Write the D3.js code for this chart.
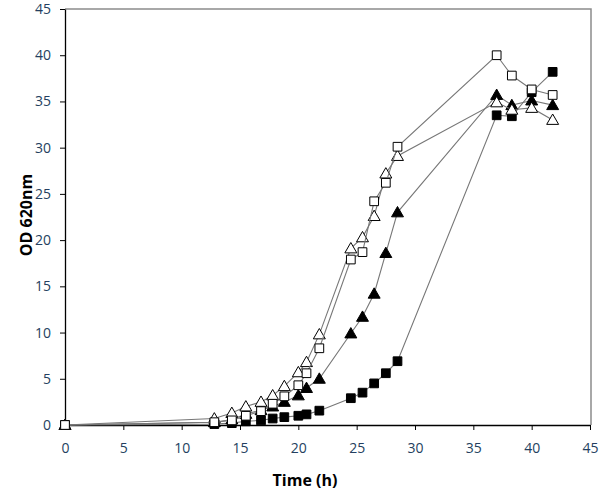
<!DOCTYPE html>
<html>
<head>
<meta charset="utf-8">
<script src="https://cdn.jsdelivr.net/npm/d3@7"></script>
<style>
  body { margin: 0; background: #fff; }
  svg { display: block; }
  .tick text { font-family: "Open Sans", "Noto Sans", sans-serif; font-size: 14px; fill: #243f60; }
  .title { font-family: "Open Sans", "Noto Sans", sans-serif; font-size: 16px; font-weight: bold; fill: #000; }
</style>
</head>
<body>
<svg width="600" height="493"></svg>
<script>
// sampling times (h)
var times = [0, 12.8, 14.3, 15.5, 16.8, 17.8, 18.8, 20.0, 20.7, 21.8, 24.5, 25.5, 26.5, 27.5, 28.5, 37.0, 38.3, 40.0, 41.8];

// OD 620nm for each culture
var filledSquares = [0, 0.1, 0.2, 0.4, 0.5, 0.7, 0.85, 1.0, 1.15, 1.55, 2.9, 3.5, 4.5, 5.6, 6.9, 33.5, 33.4, 36.0, 38.2];
var filledTriangles = [0, 0.3, 0.6, 1.2, 1.6, 2.0, 2.5, 3.2, 4.0, 5.0, 9.9, 11.7, 14.2, 18.6, 23.0, 35.7, 34.6, 35.1, 34.6];
var openTriangles = [0, 0.7, 1.3, 2.0, 2.5, 3.2, 4.2, 5.7, 6.8, 9.8, 19.1, 20.3, 22.6, 27.2, 29.1, 34.9, 34.1, 34.3, 33.0];
var openSquares = [0, 0.3, 0.5, 1.0, 1.5, 2.3, 3.1, 4.3, 5.6, 8.3, 17.9, 18.7, 24.2, 26.2, 30.1, 40.0, 37.8, 36.3, 35.7];

var xTicks = d3.range(0, 46, 5);
var yTicks = d3.range(0, 46, 5);

var series = [
  {values: filledSquares, shape: d3.symbolSquare, fill: "#000"},
  {values: filledTriangles, shape: d3.symbolTriangle, fill: "#000"},
  {values: openTriangles, shape: d3.symbolTriangle, fill: "#fff"},
  {values: openSquares, shape: d3.symbolSquare, fill: "#fff"}
];

var svg = d3.select("svg"),
  mLeft = 65, mRight = 590, mTop = 9, mBottom = 425;

var x = d3.scaleLinear().domain([0, 45]).range([mLeft, mRight]);
var y = d3.scaleLinear().domain([0, 45]).range([mBottom, mTop]);

// plot frame (grey top / right)
svg.append("path")
  .attr("d", "M" + mLeft + "," + mTop + "H" + (mRight + 1) + "V" + mBottom)
  .attr("fill", "none")
  .attr("stroke", "#8c8c8c")
  .attr("stroke-width", 1.5);

var xAxis = svg.append("g")
  .attr("transform", "translate(0," + mBottom + ")")
  .call(d3.axisBottom(x).tickValues(xTicks).tickSize(5).tickPadding(13).tickSizeOuter(0));
var yAxis = svg.append("g")
  .attr("transform", "translate(" + mLeft + ",0)")
  .call(d3.axisLeft(y).tickValues(yTicks).tickSize(5).tickPadding(9).tickSizeOuter(0));
[xAxis, yAxis].forEach(function(a) {
  a.select(".domain").attr("stroke", "#000").attr("stroke-width", 1.3);
  a.selectAll(".tick line").attr("stroke", "#000");
});

var line = d3.line()
  .x(function(d, i) { return x(times[i]); })
  .y(function(d) { return y(d); });

series.forEach(function(s) {
  var g = svg.append("g");
  g.append("path")
    .attr("d", line(s.values))
    .attr("fill", "none")
    .attr("stroke", "#777")
    .attr("stroke-width", 1.1);
  var sym = d3.symbol().type(s.shape).size(s.shape === d3.symbolSquare ? 76 : 62);
  g.selectAll("path.pt")
    .data(s.values)
    .enter().append("path")
    .attr("class", "pt")
    .attr("d", sym)
    .attr("transform", function(d, i) {
      var dy = s.shape === d3.symbolTriangle ? 1 : 0;
      return "translate(" + x(times[i]) + "," + (y(d) + dy) + ")";
    })
    .attr("fill", s.fill)
    .attr("stroke", "#000")
    .attr("stroke-width", 1);
});

svg.append("text")
  .attr("class", "title")
  .attr("x", 305)
  .attr("y", 486)
  .attr("text-anchor", "middle")
  .text("Time (h)");

svg.append("text")
  .attr("class", "title")
  .attr("transform", "translate(32," + 215 + ") rotate(-90)")
  .attr("text-anchor", "middle")
  .text("OD 620nm");
</script>
</body>
</html>
